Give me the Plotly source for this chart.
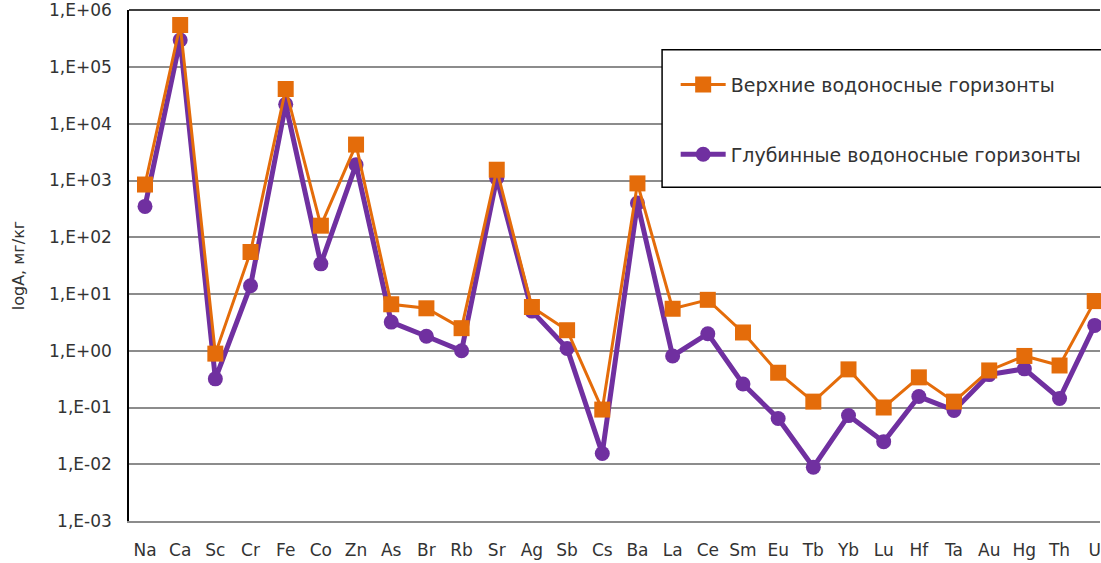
import plotly.graph_objects as go

# Elements along the x axis
elements = ["Na", "Ca", "Sc", "Cr", "Fe", "Co", "Zn", "As", "Br", "Rb", "Sr", "Ag", "Sb", "Cs",
            "Ba", "La", "Ce", "Sm", "Eu", "Tb", "Yb", "Lu", "Hf", "Ta", "Au", "Hg", "Th", "U"]

# Concentrations, mg/kg
upper = [850, 550000, 0.89, 55, 41000, 160, 4300, 6.6, 5.6, 2.5, 1550, 5.9, 2.3, 0.092,
         890, 5.5, 7.9, 2.1, 0.41, 0.127, 0.47, 0.10, 0.34, 0.127, 0.45, 0.81, 0.55, 7.5]
deep = [350, 300000, 0.32, 14, 22000, 34, 1900, 3.2, 1.8, 1.0, 1100, 5.0, 1.1, 0.0155,
        400, 0.81, 2.0, 0.26, 0.064, 0.0089, 0.072, 0.025, 0.156, 0.089, 0.38, 0.48, 0.144, 2.8]

# Y axis decades and their labels
y_tickvals = [1e-3, 1e-2, 1e-1, 1e0, 1e1, 1e2, 1e3, 1e4, 1e5, 1e6]
y_ticktext = ["1,E-03", "1,E-02", "1,E-01", "1,E+00", "1,E+01", "1,E+02",
              "1,E+03", "1,E+04", "1,E+05", "1,E+06"]

ORANGE = "#E46C0A"
PURPLE = "#7030A0"
FONT = "DejaVu Sans"

fig = go.Figure()

fig.add_trace(go.Scatter(
    x=elements, y=deep, mode="lines+markers",
    name="Глубинные водоносные горизонты",
    line=dict(color=PURPLE, width=5),
    marker=dict(symbol="circle", size=15, color=PURPLE),
    legendgroup="b", legendrank=2, cliponaxis=False,
))
fig.add_trace(go.Scatter(
    x=elements, y=upper, mode="lines+markers",
    name="Верхние водоносные горизонты",
    line=dict(color=ORANGE, width=3),
    marker=dict(symbol="square", size=16, color=ORANGE),
    legendgroup="a", legendrank=1, cliponaxis=False,
))

fig.update_layout(
    width=1101, height=563,
    margin=dict(l=129, r=0, t=8, b=42),
    paper_bgcolor="white", plot_bgcolor="white",
    font=dict(family=FONT, color="#333333", size=15),
    showlegend=True,
    legend=dict(
        x=0.563, y=0.891, xanchor="left", yanchor="top",
        borderwidth=0, bgcolor="rgba(0,0,0,0)",
        font=dict(family=FONT, size=19, color="#333333"),
        tracegroupgap=42, traceorder="grouped", itemwidth=45,
    ),
    xaxis=dict(
        type="category", range=[-0.455, 27.15],
        showgrid=False, showline=True, linecolor="#8c8c8c", linewidth=1.5,
        ticks="", ticklabelstandoff=13,
        tickfont=dict(family=FONT, size=17, color="#333333"),
    ),
    yaxis=dict(
        type="log", range=[-3, 6.005],
        tickvals=y_tickvals, ticktext=y_ticktext,
        showgrid=True, gridcolor="#8c8c8c", gridwidth=1.5,
        showline=True, linecolor="#000000", linewidth=1.5,
        ticks="", ticklabelstandoff=12, ticklabeloverflow="allow",
        tickfont=dict(family=FONT, size=17, color="#333333"),
        title=dict(text="logA, мг/кг", standoff=20,
                   font=dict(family=FONT, size=16, color="#333333")),
        zeroline=False,
    ),
    shapes=[
        # top frame line of the plotting area
        dict(type="line", xref="paper", yref="paper", x0=0, x1=1, y0=1, y1=1,
             line=dict(color="#000000", width=1.5)),
        # legend frame
        dict(type="rect", xref="paper", yref="paper", x0=0.549, x1=1.02, y0=0.653, y1=0.922,
             fillcolor="white", line=dict(color="#000000", width=1.5), layer="above"),
    ],
)

fig.write_html("out.html")
